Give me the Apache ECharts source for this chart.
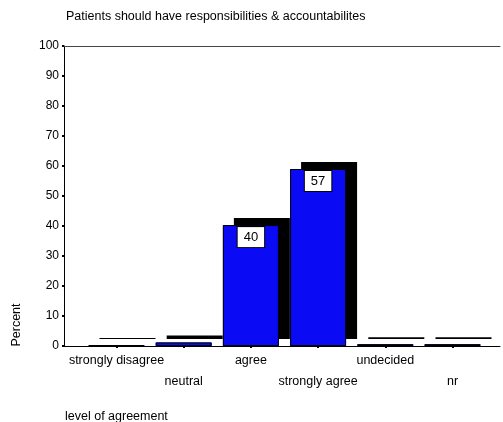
<!DOCTYPE html>
<html>
<head>
<meta charset="utf-8">
<script src="https://cdn.jsdelivr.net/npm/echarts@6/dist/echarts.min.js"></script>
<style>
  html, body { margin: 0; padding: 0; background: #fff; }
  #chart { width: 503px; height: 422px; }
</style>
</head>
<body>
<div id="chart"></div>
<script>
  // level of agreement categories (x axis)
  const categories = ['strongly disagree', 'neutral', 'agree', 'strongly agree', 'undecided', 'nr'];
  // bar heights in percent
  const percent = [0.3, 1.2, 40.3, 59, 0.6, 0.6];
  // printed value boxes (empty = no box)
  const valueLabels = ['', '', '40', '57', '', ''];
  const yTicks = [0, 10, 20, 30, 40, 50, 60, 70, 80, 90, 100];

  const font = 'Liberation Sans, Arial, sans-serif';
  const positions = categories.map((c, i) => i);

  const barData = percent.map((v, i) => ({
    value: [i, v],
    label: { show: valueLabels[i] !== '' }
  }));
  const shadowData = percent.map((v, i) => [i, v]);

  const chart = echarts.init(document.getElementById('chart'));
  chart.setOption({
    animation: false,
    textStyle: { fontFamily: font },
    grid: { left: 64, right: 3, top: 46, bottom: 76 },
    xAxis: [
      {
        type: 'value',
        min: -0.781,
        max: 5.707,
        position: 'bottom',
        axisLine: { lineStyle: { color: '#000', width: 1 } },
        splitLine: { show: false },
        axisTick: {
          customValues: positions,
          length: 2,
          lineStyle: { color: '#000', width: 2 }
        },
        axisLabel: {
          customValues: positions,
          color: '#000',
          fontSize: 12.5,
          margin: 4,
          lineHeight: 21,
          formatter: function (v) {
            const name = categories[Math.round(v)];
            return Math.round(v) % 2 === 1 ? '\n' + name : name;
          }
        }
      },
      {
        type: 'value',
        min: -0.781,
        max: 5.707,
        position: 'top',
        axisLine: { show: true, lineStyle: { color: '#444', width: 1 } },
        axisTick: { show: false },
        axisLabel: { show: false },
        splitLine: { show: false }
      }
    ],
    yAxis: {
      type: 'value',
      min: 0,
      max: 100,
      interval: 10,
      axisLine: { show: true, onZero: false, lineStyle: { color: '#000', width: 1 } },
      axisTick: { show: true, length: 2, lineStyle: { color: '#000', width: 2 } },
      axisLabel: { color: '#000', fontSize: 12, margin: 5 },
      splitLine: { show: false }
    },
    series: [
      {
        // black depth behind each bar
        type: 'bar',
        xAxisIndex: 0,
        data: shadowData,
        barWidth: 56,
        z: 1,
        itemStyle: {
          color: '#0a0af5',
          shadowColor: '#000',
          shadowBlur: 0,
          shadowOffsetX: 11,
          shadowOffsetY: -7
        }
      },
      {
        type: 'bar',
        xAxisIndex: 0,
        data: barData,
        barWidth: 56,
        barGap: '-100%',
        z: 2,
        itemStyle: {
          color: '#0a0af5',
          borderColor: '#000',
          borderWidth: 1
        },
        label: {
          position: 'insideTop',
          distance: 2,
          formatter: function (p) { return valueLabels[p.dataIndex]; },
          color: '#000',
          fontSize: 13,
          backgroundColor: '#fff',
          borderColor: '#000',
          borderWidth: 1,
          padding: [4, 6, 3, 6]
        }
      }
    ],
    graphic: [
      {
        type: 'text',
        left: 66,
        top: 10,
        style: { text: 'Patients should have responsibilities & accountabilites', fill: '#000', font: '12.5px ' + font }
      },
      {
        type: 'text',
        x: 17,
        y: 325,
        rotation: Math.PI / 2,
        style: { text: 'Percent', fill: '#000', font: '12.5px ' + font, align: 'center', verticalAlign: 'middle' }
      },
      {
        type: 'text',
        left: 65,
        top: 410,
        style: { text: 'level of agreement', fill: '#000', font: '12.5px ' + font }
      }
    ]
  });
</script>
</body>
</html>
